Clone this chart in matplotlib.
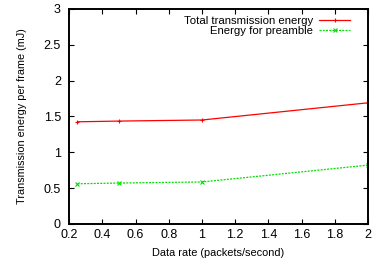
import matplotlib
matplotlib.use("Agg")
import matplotlib.pyplot as plt

plt.rcParams['font.family'] = ['Liberation Sans', 'DejaVu Sans']

# data
rate = [0.25, 0.5, 1.0, 2.0]
total_energy = [1.425, 1.435, 1.45, 1.69]
preamble_energy = [0.56, 0.57, 0.585, 0.82]

xticks = [0.2, 0.4, 0.6, 0.8, 1, 1.2, 1.4, 1.6, 1.8, 2]
yticks = [0, 0.5, 1, 1.5, 2, 2.5, 3]

fig = plt.figure(figsize=(3.72, 2.64), dpi=100)
ax = fig.add_axes([0.186, 0.152, 0.803, 0.814])

ax.plot(rate, total_energy, color="#ff0000", lw=0.9, marker="+", ms=3.2, mew=0.8,
        label="Total transmission energy")
ax.plot(rate, preamble_energy, color="#00e000", lw=0.9, ls=(0, (1.6, 1.0)), marker="x",
        ms=2.6, mew=0.8, label="Energy for preamble")

ax.set_xlim(0.2, 2)
ax.set_ylim(0, 3)
ax.set_xticks(xticks)
ax.set_xticklabels(["0.2", "0.4", "0.6", "0.8", "1", "1.2", "1.4", "1.6", "1.8", "2"])
ax.set_yticks(yticks)
ax.set_yticklabels(["0", "0.5", "1", "1.5", "2", "2.5", "3"])
ax.tick_params(direction="in", top=True, right=True, length=3.5, width=0.8,
               labelsize=9)
ax.tick_params(axis="y", pad=6)
ax.tick_params(axis="x", pad=4)
for s in ax.spines.values():
    s.set_linewidth(1.4)

ax.set_xlabel("Data rate (packets/second)", fontsize=7.9, labelpad=5)
ax.set_ylabel("Transmission energy per frame (mJ)", fontsize=7.8, labelpad=12)

ax.legend(loc="upper right", frameon=False, markerfirst=False, fontsize=8.2,
          handlelength=2.7, handletextpad=0.5, labelspacing=0.0,
          borderaxespad=0.0, bbox_to_anchor=(0.955, 0.99))

fig.savefig("out.png", dpi=100)
